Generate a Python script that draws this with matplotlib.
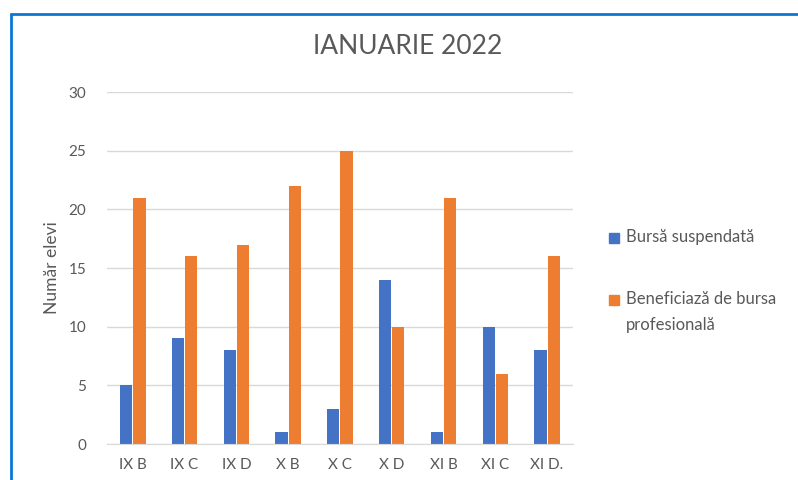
import matplotlib
matplotlib.use("Agg")
from matplotlib import pyplot as plt
from matplotlib.patches import Rectangle
import numpy as np

clase = ["IX B", "IX C", "IX D", "X B", "X C", "X D", "XI B", "XI C", "XI D."]
bursa_suspendata = [5, 9, 8, 1, 3, 14, 1, 10, 8]
bursa_profesionala = [21, 16, 17, 22, 25, 10, 21, 6, 16]
serii = ["Bursă suspendată", "Beneficiază de bursa\nprofesională"]
culori = ["#4472C4", "#ED7D31"]

plt.rcParams["font.family"] = ["Lato", "DejaVu Sans"]

W, H = 798, 480
fig = plt.figure(figsize=(7.98, 4.8), dpi=100)
ax = fig.add_axes([0.134, 0.075, 0.584, 0.733])

x = np.arange(len(clase))
w = 0.235
ax.bar(x - w / 2 - 0.01, bursa_suspendata, w, color=culori[0], label=serii[0])
ax.bar(x + w / 2 + 0.01, bursa_profesionala, w, color=culori[1], label=serii[1])

ax.set_xlim(-0.5, len(clase) - 0.5)
ax.set_ylim(0, 30)
ax.set_yticks(range(0, 31, 5))
ax.set_xticks(x)
ax.set_xticklabels(clase)
ax.grid(axis="y", color="#D9D9D9", linewidth=1)
ax.set_axisbelow(True)
for s in ["top", "right", "left"]:
    ax.spines[s].set_visible(False)
ax.spines["bottom"].set_color("#D9D9D9")
ax.tick_params(axis="both", length=0, colors="#595959", labelsize=11)
ax.tick_params(axis="y", pad=15)
ax.tick_params(axis="x", pad=10)
ax.set_ylabel("Număr elevi", color="#595959", fontsize=12.5, labelpad=6)
fig.text(408 / W, 1 - 47 / H, "IANUARIE 2022", color="#595959", fontsize=19,
         ha="center", va="center")

# legenda desenata manual (patrat aliniat cu primul rand de text)
for i, (nume, c) in enumerate(zip(serii, culori)):
    yc = [238, 300][i]
    fig.patches.append(Rectangle((609 / W, 1 - (yc + 5) / H), 10 / W, 10 / H,
                                 transform=fig.transFigure, color=c))
    fig.text(626 / W, 1 - (yc - 9) / H, nume, color="#595959", fontsize=12,
             ha="left", va="top", linespacing=1.75)

fig.patches.append(Rectangle((11 / W, -0.1), 1.2, 1 - 14 / H + 0.1,
                             transform=fig.transFigure, fill=False,
                             edgecolor="#0A78D2", linewidth=2))

fig.savefig("out.png", dpi=100)
